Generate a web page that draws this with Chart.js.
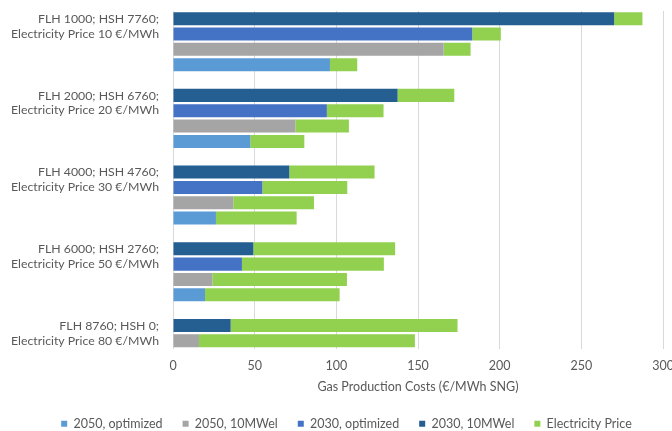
<!DOCTYPE html>
<html>
<head>
<meta charset="utf-8">
<script src="https://cdn.jsdelivr.net/npm/chart.js@4.4.1/dist/chart.umd.min.js"></script>
<style>
  html, body { margin: 0; padding: 0; background: #ffffff; }
  #c { display: block; }
</style>
</head>
<body>
<canvas id="c" width="672" height="431"></canvas>
<script>
// Operating scenarios (one group of bars each)
const scenarios = [
  ["FLH 1000; HSH 7760;", "Electricity Price 10 €/MWh"],
  ["FLH 2000; HSH 6760;", "Electricity Price 20 €/MWh"],
  ["FLH 4000; HSH 4760;", "Electricity Price 30 €/MWh"],
  ["FLH 6000; HSH 2760;", "Electricity Price 50 €/MWh"],
  ["FLH 8760; HSH 0;", "Electricity Price 80 €/MWh"]
];

// Gas production costs without electricity (€/MWh SNG), per scenario
const cost2030_10MWel    = [270.1, 137.5, 71.2, 49.2, 35.3];
const cost2030_optimized = [183.2,  94.2, 54.7, 42.2, null];
const cost2050_10MWel    = [165.7,  74.9, 36.9, 24.1, 15.9];
const cost2050_optimized = [ 96.1,  47.3, 26.3, 19.6, null];

// Electricity cost share added on top of each bar (€/MWh SNG)
const elec2030_10MWel    = [17.3, 34.7, 52.2, 86.8, 138.9];
const elec2030_optimized = [17.5, 34.7, 52.0, 86.9, null];
const elec2050_10MWel    = [16.5, 32.8, 49.4, 82.4, 132.2];
const elec2050_optimized = [16.7, 33.1, 49.4, 82.4, null];

const xTicks = [0, 50, 100, 150, 200, 250, 300];
const xTitle = "Gas Production Costs (€/MWh SNG)";

// Series order inside a group, top to bottom
const rowSeries = [
  { key: "2030, 10MWel",    cost: cost2030_10MWel,    elec: elec2030_10MWel },
  { key: "2030, optimized", cost: cost2030_optimized, elec: elec2030_optimized },
  { key: "2050, 10MWel",    cost: cost2050_10MWel,    elec: elec2050_10MWel },
  { key: "2050, optimized", cost: cost2050_optimized, elec: elec2050_optimized }
];

// Flatten into one category row per bar, with an empty row between groups
const rowLabels = [];
const rowData = { "2030, 10MWel": [], "2030, optimized": [], "2050, 10MWel": [], "2050, optimized": [] };
const rowElec = [];
function pushRow(label, key, cost, elec) {
  rowLabels.push(label);
  Object.keys(rowData).forEach(k => rowData[k].push(k === key ? cost : null));
  rowElec.push(elec);
}
scenarios.forEach((sc, g) => {
  let first = true;
  rowSeries.forEach(s => {
    if (s.cost[g] === null) return;
    pushRow(first ? sc : "", s.key, s.cost[g], s.elec[g]);
    first = false;
  });
  if (g < scenarios.length - 1) pushRow("", null, null, null);
});

const colors = {
  "2050, optimized": "#5B9BD5",
  "2050, 10MWel": "#A5A5A5",
  "2030, optimized": "#4472C4",
  "2030, 10MWel": "#255E91",
  "Electricity Price": "#92D050"
};

const legendOrder = ["2050, optimized", "2050, 10MWel", "2030, optimized", "2030, 10MWel"];
const datasets = legendOrder.map(k => ({
  label: k,
  data: rowData[k],
  backgroundColor: colors[k],
  borderWidth: 0
}));
datasets.push({
  label: "Electricity Price",
  data: rowElec,
  backgroundColor: colors["Electricity Price"],
  borderWidth: 0
});

const FONT = "Lato, 'Open Sans', sans-serif";
const TEXT = "#595959";

// Nudge the legend row to the right of the canvas centre
const legendShift = {
  id: "legendShift",
  afterLayout(chart) {
    const lg = chart.legend;
    if (lg) { lg.left += 15; lg.right += 15; }
  }
};

new Chart(document.getElementById("c"), {
  type: "bar",
  data: { labels: rowLabels, datasets },
  plugins: [legendShift],
  options: {
    responsive: false,
    animation: false,
    indexAxis: "y",
    categoryPercentage: 1.0,
    barPercentage: 0.85,
    layout: { padding: { left: 0, right: 9, top: 11, bottom: -9 } },
    plugins: {
      tooltip: { enabled: false },
      legend: {
        position: "bottom",
        labels: {
          font: { family: FONT, size: 12.5 },
          color: TEXT,
          boxWidth: 6,
          boxHeight: 6,
          padding: 20
        }
      }
    },
    scales: {
      x: {
        stacked: true,
        min: 0,
        max: 300,
        afterBuildTicks: s => { s.ticks = xTicks.map(v => ({ value: v })); },
        ticks: { font: { family: FONT, size: 12.5 }, color: TEXT, padding: 10 },
        grid: { color: "#D9D9D9", lineWidth: 1, drawTicks: false },
        border: { display: false },
        title: {
          display: true,
          text: xTitle,
          font: { family: FONT, size: 12.5 },
          color: TEXT,
          padding: { top: 4, bottom: 3 }
        },
        afterFit: s => { s.height = 49; s.paddingLeft = 0; s.paddingRight = 0; }
      },
      y: {
        stacked: true,
        grid: { display: false, drawTicks: false },
        border: { display: false },
        ticks: {
          autoSkip: false,
          font: { family: FONT, size: 12.3 },
          color: TEXT,
          padding: 14,
          labelOffset: 7.7
        },
        afterFit: s => { s.width = 173; s.paddingTop = 0; s.paddingBottom = 0; }
      }
    }
  }
});
</script>
</body>
</html>
